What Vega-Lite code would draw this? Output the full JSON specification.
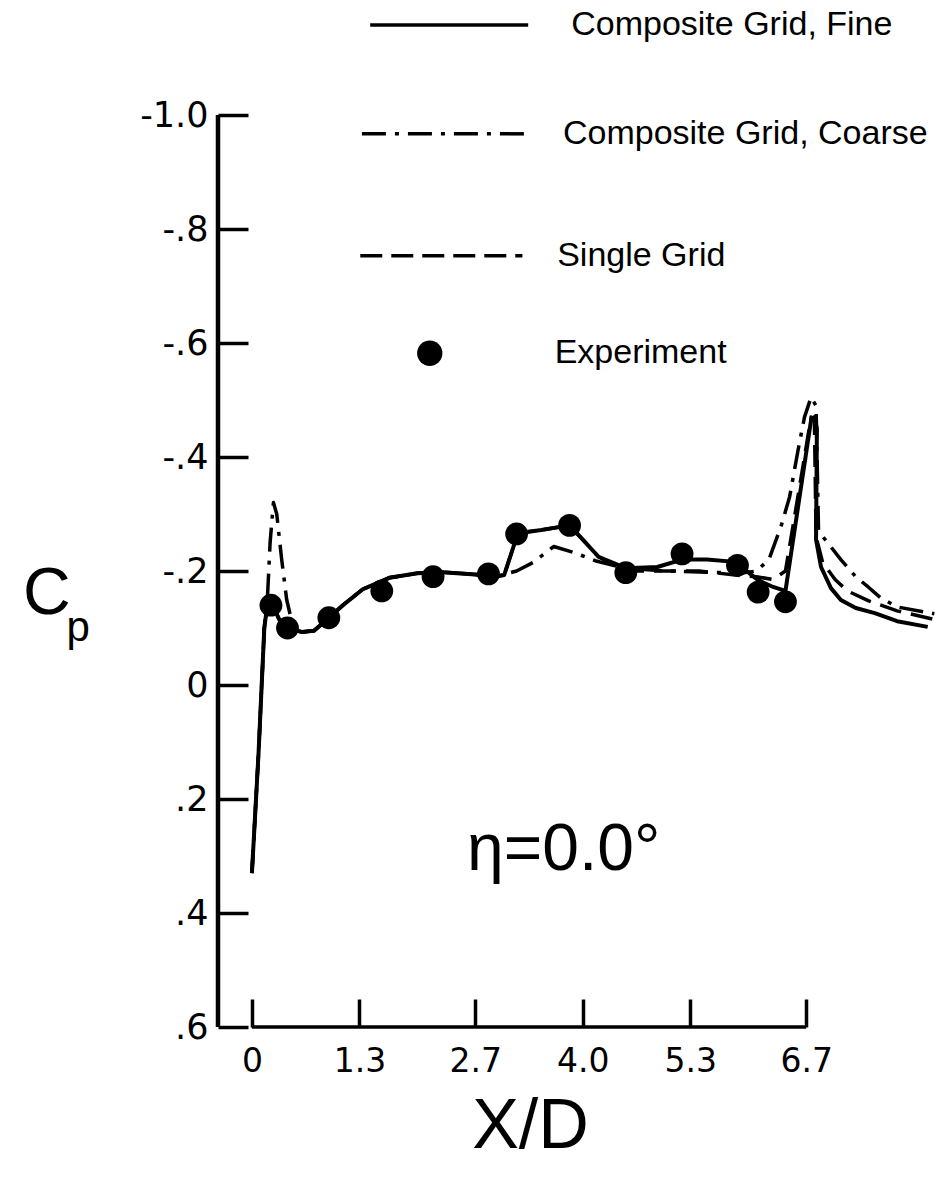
{
  "$schema": "https://vega.github.io/schema/vega-lite/v6.json",
  "width": 718,
  "height": 912,
  "autosize": {"type": "none"},
  "padding": {"left": 218, "top": 115, "right": 4, "bottom": 168},
  "background": "white",
  "config": {"view": {"stroke": null}, "font": "Liberation Sans"},
  "datasets": {
    "fine": [
      {"x": 0.0, "y": 0.33}, {"x": 0.08, "y": 0.12}, {"x": 0.15, "y": -0.1}, {"x": 0.19, "y": -0.145},
      {"x": 0.25, "y": -0.14}, {"x": 0.33, "y": -0.115}, {"x": 0.45, "y": -0.1}, {"x": 0.6, "y": -0.093},
      {"x": 0.75, "y": -0.095}, {"x": 0.93, "y": -0.118}, {"x": 1.1, "y": -0.14}, {"x": 1.34, "y": -0.168},
      {"x": 1.66, "y": -0.188}, {"x": 2.0, "y": -0.196}, {"x": 2.3, "y": -0.198}, {"x": 2.7, "y": -0.194},
      {"x": 2.95, "y": -0.19}, {"x": 3.05, "y": -0.193}, {"x": 3.19, "y": -0.255}, {"x": 3.3, "y": -0.268},
      {"x": 3.5, "y": -0.272}, {"x": 3.84, "y": -0.28}, {"x": 4.0, "y": -0.255}, {"x": 4.19, "y": -0.225},
      {"x": 4.52, "y": -0.205}, {"x": 4.9, "y": -0.207}, {"x": 5.2, "y": -0.22}, {"x": 5.5, "y": -0.22},
      {"x": 5.84, "y": -0.216}, {"x": 6.12, "y": -0.184}, {"x": 6.3, "y": -0.172}, {"x": 6.45, "y": -0.165},
      {"x": 6.76, "y": -0.465}, {"x": 6.8, "y": -0.47}, {"x": 6.83, "y": -0.45}, {"x": 6.82, "y": -0.255},
      {"x": 6.88, "y": -0.207}, {"x": 7.0, "y": -0.17}, {"x": 7.12, "y": -0.149}, {"x": 7.3, "y": -0.135},
      {"x": 7.53, "y": -0.126}, {"x": 7.8, "y": -0.112}, {"x": 8.17, "y": -0.102}
    ],
    "coarse": [
      {"x": 0.0, "y": 0.33}, {"x": 0.08, "y": 0.12}, {"x": 0.15, "y": -0.1}, {"x": 0.19, "y": -0.16},
      {"x": 0.22, "y": -0.25}, {"x": 0.26, "y": -0.32}, {"x": 0.3, "y": -0.3}, {"x": 0.36, "y": -0.22},
      {"x": 0.42, "y": -0.15}, {"x": 0.5, "y": -0.1}, {"x": 0.6, "y": -0.093}, {"x": 0.75, "y": -0.095},
      {"x": 0.93, "y": -0.118}, {"x": 1.1, "y": -0.14}, {"x": 1.34, "y": -0.168}, {"x": 1.66, "y": -0.188},
      {"x": 2.0, "y": -0.196}, {"x": 2.3, "y": -0.198}, {"x": 2.7, "y": -0.194}, {"x": 2.95, "y": -0.19},
      {"x": 3.2, "y": -0.2}, {"x": 3.4, "y": -0.215}, {"x": 3.65, "y": -0.243}, {"x": 3.9, "y": -0.232},
      {"x": 4.15, "y": -0.218}, {"x": 4.5, "y": -0.205}, {"x": 5.0, "y": -0.2}, {"x": 5.5, "y": -0.198},
      {"x": 5.9, "y": -0.196}, {"x": 6.1, "y": -0.2}, {"x": 6.25, "y": -0.22}, {"x": 6.4, "y": -0.28},
      {"x": 6.5, "y": -0.33}, {"x": 6.6, "y": -0.41}, {"x": 6.68, "y": -0.47}, {"x": 6.76, "y": -0.505},
      {"x": 6.82, "y": -0.49}, {"x": 6.85, "y": -0.27}, {"x": 7.12, "y": -0.22}, {"x": 7.3, "y": -0.19},
      {"x": 7.45, "y": -0.172}, {"x": 7.6, "y": -0.153}, {"x": 7.8, "y": -0.137}, {"x": 8.25, "y": -0.125}
    ],
    "single": [
      {"x": 0.0, "y": 0.33}, {"x": 0.08, "y": 0.12}, {"x": 0.15, "y": -0.1}, {"x": 0.19, "y": -0.145},
      {"x": 0.25, "y": -0.14}, {"x": 0.33, "y": -0.115}, {"x": 0.45, "y": -0.1}, {"x": 0.6, "y": -0.093},
      {"x": 0.75, "y": -0.095}, {"x": 0.93, "y": -0.118}, {"x": 1.1, "y": -0.14}, {"x": 1.34, "y": -0.168},
      {"x": 1.66, "y": -0.188}, {"x": 2.0, "y": -0.196}, {"x": 2.3, "y": -0.198}, {"x": 2.7, "y": -0.194},
      {"x": 2.95, "y": -0.19}, {"x": 3.05, "y": -0.193}, {"x": 3.19, "y": -0.255}, {"x": 3.3, "y": -0.268},
      {"x": 3.5, "y": -0.272}, {"x": 3.84, "y": -0.28}, {"x": 4.0, "y": -0.255}, {"x": 4.19, "y": -0.225},
      {"x": 4.5, "y": -0.2}, {"x": 5.0, "y": -0.2}, {"x": 5.4, "y": -0.2}, {"x": 5.9, "y": -0.192},
      {"x": 6.1, "y": -0.19}, {"x": 6.3, "y": -0.185}, {"x": 6.45, "y": -0.2}, {"x": 6.6, "y": -0.33},
      {"x": 6.76, "y": -0.47}, {"x": 6.8, "y": -0.465}, {"x": 6.82, "y": -0.26}, {"x": 6.9, "y": -0.215},
      {"x": 7.05, "y": -0.185}, {"x": 7.2, "y": -0.165}, {"x": 7.45, "y": -0.148}, {"x": 7.8, "y": -0.13},
      {"x": 8.25, "y": -0.115}
    ],
    "experiment": [
      {"x": 0.23, "y": -0.14}, {"x": 0.43, "y": -0.1}, {"x": 0.93, "y": -0.118}, {"x": 1.57, "y": -0.165},
      {"x": 2.19, "y": -0.19}, {"x": 2.86, "y": -0.195}, {"x": 3.2, "y": -0.265}, {"x": 3.84, "y": -0.28},
      {"x": 4.52, "y": -0.197}, {"x": 5.2, "y": -0.23}, {"x": 5.87, "y": -0.21}, {"x": 6.12, "y": -0.163},
      {"x": 6.45, "y": -0.146}
    ],
    "legendLines": [
      {"x": 1.43, "x2": 3.34, "y": -1.158, "series": "Composite Grid, Fine"},
      {"x": 1.33, "x2": 3.3, "y": -0.967, "series": "Composite Grid, Coarse"},
      {"x": 1.31, "x2": 3.27, "y": -0.753, "series": "Single Grid"}
    ],
    "legendText": [
      {"x": 3.86, "y": -1.158, "label": "Composite Grid, Fine"},
      {"x": 3.76, "y": -0.967, "label": "Composite Grid, Coarse"},
      {"x": 3.69, "y": -0.753, "label": "Single Grid"},
      {"x": 3.66, "y": -0.582, "label": "Experiment"}
    ],
    "legendDot": [{"x": 2.15, "y": -0.582}],
    "xaxisLine": [{"x": 0, "x2": 6.7, "y": 0.6}],
    "yaxisLine": [{"x": -0.41, "y": -1.0, "y2": 0.6}]
  },
  "encoding": {
    "x": {
      "field": "x", "type": "quantitative",
      "scale": {"domain": [-0.41, 8.27], "nice": false, "zero": false},
      "axis": {
        "values": [0, 1.3, 2.7, 4.0, 5.3, 6.7],
        "labelExpr": "datum.value == 0 ? '0' : format(datum.value, '.1f')",
        "domain": false,
        "grid": false,
        "ticks": true,
        "tickSize": -28,
        "tickWidth": 3.5,
        "tickColor": "black",
        "labelPadding": 46,
        "labelFont": "DejaVu Sans",
        "labelFontSize": 33,
        "labelColor": "black",
        "title": "X/D",
        "titleFont": "Liberation Sans",
        "titleFontSize": 70,
        "titleFontWeight": "normal",
        "titleColor": "black",
        "titleX": 312,
        "titleY": 120,
        "titleBaseline": "alphabetic",
        "titleAnchor": "middle",
        "titleAlign": "center"
      }
    },
    "y": {
      "field": "y", "type": "quantitative",
      "scale": {"domain": [-1.0, 0.6], "reverse": true, "nice": false, "zero": false},
      "axis": {
        "values": [-1.0, -0.8, -0.6, -0.4, -0.2, 0, 0.2, 0.4, 0.6],
        "labelExpr": "datum.value == -1 ? '-1.0' : datum.value == 0 ? '0' : (datum.value < 0 ? '-.' : '.') + round(abs(datum.value) * 10)",
        "domain": false,
        "grid": false,
        "tickSize": -30,
        "tickWidth": 3.5,
        "tickColor": "black",
        "labelPadding": 40,
        "labelFont": "DejaVu Sans",
        "labelFontSize": 35,
        "labelColor": "black",
        "title": null
      }
    }
  },
  "layer": [
    {
      "data": {"name": "yaxisLine"},
      "mark": {"type": "rule", "stroke": "black", "strokeWidth": 4.5},
      "encoding": {"y2": {"field": "y2"}}
    },
    {
      "data": {"name": "xaxisLine"},
      "mark": {"type": "rule", "stroke": "black", "strokeWidth": 3.5},
      "encoding": {"x2": {"field": "x2"}}
    },
    {
      "data": {"name": "coarse"},
      "mark": {"type": "line", "stroke": "black", "strokeWidth": 3.5, "strokeDash": [24, 9, 4, 9], "strokeJoin": "round"},
      "encoding": {"order": {"value": null}}
    },
    {
      "data": {"name": "single"},
      "mark": {"type": "line", "stroke": "black", "strokeWidth": 3.5, "strokeDash": [22, 10], "strokeJoin": "round"},
      "encoding": {"order": {"value": null}}
    },
    {
      "data": {"name": "fine"},
      "mark": {"type": "line", "stroke": "black", "strokeWidth": 4, "strokeJoin": "round"},
      "encoding": {"order": {"value": null}}
    },
    {
      "data": {"name": "experiment"},
      "mark": {"type": "point", "shape": "circle", "filled": true, "color": "black", "size": 520, "opacity": 1},
      "encoding": {}
    },
    {
      "data": {"name": "legendLines"},
      "mark": {"type": "rule", "stroke": "black", "strokeWidth": 3.5},
      "encoding": {
        "x2": {"field": "x2"},
        "strokeDash": {
          "field": "series", "type": "nominal",
          "scale": {"domain": ["Composite Grid, Fine", "Composite Grid, Coarse", "Single Grid"], "range": [[1, 0], [24, 9, 4, 9], [22, 9]]},
          "legend": null
        }
      }
    },
    {
      "data": {"name": "legendText"},
      "mark": {"type": "text", "align": "left", "baseline": "middle", "font": "Liberation Sans", "fontSize": 34, "color": "black"},
      "encoding": {"text": {"field": "label"}}
    },
    {
      "data": {"name": "legendDot"},
      "mark": {"type": "point", "shape": "circle", "filled": true, "color": "black", "size": 640, "opacity": 1},
      "encoding": {}
    },
    {
      "data": {"values": [{"x": 3.77, "y": 0.29, "t": "η=0.0°"}]},
      "mark": {"type": "text", "align": "center", "baseline": "middle", "font": "Liberation Sans", "fontSize": 66, "color": "black"},
      "encoding": {"text": {"field": "t"}}
    },
    {
      "data": {"values": [{"x": -2.48, "y": -0.16, "t": "C"}]},
      "mark": {"type": "text", "align": "center", "baseline": "middle", "font": "Liberation Sans", "fontSize": 66, "color": "black"},
      "encoding": {"text": {"field": "t"}}
    },
    {
      "data": {"values": [{"x": -2.1, "y": -0.1, "t": "p"}]},
      "mark": {"type": "text", "align": "center", "baseline": "middle", "font": "Liberation Sans", "fontSize": 42, "color": "black"},
      "encoding": {"text": {"field": "t"}}
    }
  ]
}
